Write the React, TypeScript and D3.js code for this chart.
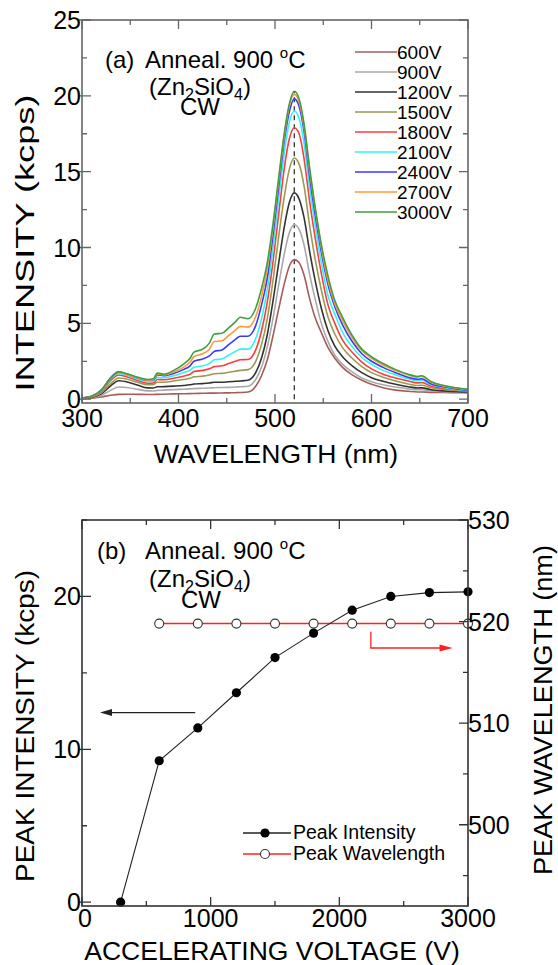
import React from 'react';
import * as d3 from 'd3';

// ---- (a) spectra ----
const wavelengths = [300, 310, 320, 330, 338, 348, 358, 368, 374, 378, 385, 395, 405, 412, 416, 425, 432, 437, 445, 452, 459, 464, 472, 480, 486, 492, 498, 504, 510, 515, 520, 525, 530, 536, 542, 548, 555, 562, 570, 580, 590, 600, 612, 625, 638, 648, 652, 662, 675, 688, 700];

const v600 = [0.04, 0.07, 0.15, 0.26, 0.32, 0.33, 0.32, 0.31, 0.31, 0.32, 0.33, 0.35, 0.36, 0.37, 0.38, 0.39, 0.4, 0.4, 0.41, 0.42, 0.43, 0.44, 0.47, 0.85, 1.55, 2.6, 4.2, 6.0, 7.7, 8.8, 9.2, 9.0, 8.2, 6.6, 5.3, 4.4, 3.4, 2.7, 2.1, 1.6, 1.25, 0.98, 0.75, 0.6, 0.52, 0.48, 0.48, 0.45, 0.44, 0.43, 0.42];
const v900 = [0.05, 0.1, 0.25, 0.6, 0.8, 0.76, 0.65, 0.55, 0.54, 0.58, 0.6, 0.63, 0.66, 0.68, 0.7, 0.72, 0.74, 0.76, 0.77, 0.78, 0.8, 0.82, 0.85, 1.3, 2.1, 3.45, 5.35, 7.6, 9.7, 11.0, 11.5, 11.2, 10.2, 8.2, 6.5, 5.0, 3.8, 2.9, 2.3, 1.8, 1.4, 1.15, 0.95, 0.8, 0.68, 0.62, 0.62, 0.55, 0.5, 0.46, 0.45];
const v1200 = [0.05, 0.12, 0.35, 0.9, 1.22, 1.12, 0.92, 0.75, 0.74, 0.82, 0.83, 0.86, 0.9, 0.95, 1.0, 1.03, 1.07, 1.12, 1.12, 1.15, 1.18, 1.2, 1.25, 1.75, 2.7, 4.25, 6.5, 9.05, 11.5, 13.0, 13.6, 13.2, 12.0, 9.7, 7.7, 6.0, 4.5, 3.5, 2.8, 2.2, 1.75, 1.42, 1.18, 0.98, 0.82, 0.74, 0.75, 0.62, 0.55, 0.5, 0.48];
const v1500 = [0.06, 0.15, 0.42, 1.05, 1.4, 1.3, 1.1, 0.95, 0.96, 1.12, 1.12, 1.2, 1.3, 1.38, 1.48, 1.52, 1.6, 1.68, 1.7, 1.78, 1.85, 1.9, 1.95, 2.5, 3.6, 5.3, 7.85, 10.8, 13.5, 15.2, 15.9, 15.5, 14.1, 11.4, 9.1, 7.2, 5.4, 4.3, 3.4, 2.7, 2.15, 1.75, 1.45, 1.2, 1.0, 0.9, 0.92, 0.75, 0.65, 0.57, 0.52];
const v1800 = [0.07, 0.17, 0.5, 1.25, 1.6, 1.45, 1.22, 1.05, 1.07, 1.3, 1.28, 1.38, 1.52, 1.65, 1.82, 1.9, 2.0, 2.15, 2.2, 2.35, 2.5, 2.6, 2.62, 3.25, 4.5, 6.4, 9.1, 12.3, 15.4, 17.2, 17.9, 17.5, 15.9, 13.0, 10.5, 8.3, 6.2, 5.0, 3.9, 3.1, 2.45, 2.0, 1.65, 1.4, 1.2, 1.08, 1.1, 0.85, 0.72, 0.62, 0.55];
const v2100 = [0.07, 0.18, 0.55, 1.35, 1.7, 1.55, 1.32, 1.15, 1.18, 1.45, 1.42, 1.55, 1.75, 1.9, 2.1, 2.2, 2.35, 2.6, 2.65, 2.9, 3.15, 3.3, 3.3, 4.0, 5.3, 7.2, 10.0, 13.3, 16.4, 18.3, 19.0, 18.5, 16.9, 13.9, 11.3, 9.0, 6.8, 5.6, 4.4, 3.45, 2.75, 2.3, 1.9, 1.6, 1.35, 1.22, 1.25, 0.95, 0.78, 0.65, 0.58];
const v2400 = [0.08, 0.2, 0.6, 1.45, 1.8, 1.62, 1.4, 1.25, 1.28, 1.6, 1.55, 1.7, 1.95, 2.2, 2.5, 2.65, 2.85, 3.15, 3.25, 3.6, 3.95, 4.15, 4.15, 4.85, 6.2, 8.0, 10.85, 14.1, 17.2, 19.0, 19.8, 19.3, 17.7, 14.6, 12.0, 9.7, 7.55, 6.1, 4.9, 3.8, 3.0, 2.5, 2.1, 1.75, 1.45, 1.32, 1.35, 1.0, 0.82, 0.68, 0.6];
const v2700 = [0.08, 0.2, 0.6, 1.4, 1.75, 1.6, 1.42, 1.25, 1.3, 1.65, 1.6, 1.8, 2.1, 2.45, 2.8, 3.0, 3.3, 3.8, 3.85, 4.2, 4.55, 4.8, 4.75, 5.45, 6.75, 8.6, 11.35, 14.5, 17.5, 19.4, 20.1, 19.6, 18.0, 15.0, 12.4, 10.0, 7.8, 6.3, 5.2, 4.05, 3.2, 2.7, 2.25, 1.9, 1.6, 1.45, 1.5, 1.1, 0.88, 0.72, 0.63];
const v3000 = [0.08, 0.2, 0.6, 1.4, 1.8, 1.65, 1.45, 1.3, 1.35, 1.72, 1.65, 1.9, 2.3, 2.7, 3.1, 3.3, 3.7, 4.3, 4.35, 4.7, 5.1, 5.4, 5.3, 6.0, 7.3, 9.0, 11.6, 14.7, 17.7, 19.5, 20.3, 19.8, 18.2, 15.2, 12.5, 10.2, 8.1, 6.5, 5.4, 4.2, 3.3, 2.8, 2.35, 1.95, 1.65, 1.5, 1.55, 1.15, 0.9, 0.75, 0.65];

const spectra = [v600, v900, v1200, v1500, v1800, v2100, v2400, v2700, v3000];
const spectraNames = ['600V', '900V', '1200V', '1500V', '1800V', '2100V', '2400V', '2700V', '3000V'];
const spectraColors = ['#a45c5c', '#a9a9a9', '#333333', '#9c9a52', '#ff3b3b', '#2ef5f5', '#3a3aff', '#ff9a3c', '#3f9f3f'];
const peakLine = 520;
const peakTop = 20.3;

// ---- (b) peak values vs. voltage ----
const intVoltages = [300, 600, 900, 1200, 1500, 1800, 2100, 2400, 2700, 3000];
const peakIntensity = [0, 9.25, 11.4, 13.7, 16.0, 17.6, 19.1, 20.0, 20.25, 20.3];
const wlVoltages = [600, 900, 1200, 1500, 1800, 2100, 2400, 2700, 3000];
const peakWavelength = [519.8, 519.8, 519.8, 519.8, 519.8, 519.8, 519.8, 519.8, 519.8];

const xTicksA = [300, 400, 500, 600, 700];
const yTicksA = [0, 5, 10, 15, 20, 25];
const xTicksB = [0, 1000, 2000, 3000];
const yTicksB = [0, 10, 20];
const yTicksBR = [500, 510, 520, 530];

const FONT = 'Liberation Sans, Arial, sans-serif';

type Lin = d3.ScaleLinear<number, number>;

// frame with inward ticks on all four sides
const Frame = ({ x, y, xMajor, xMinor, yMajor, yMinor, yr, yrMajor, yrMinor, color }: {
  x: Lin; y: Lin; xMajor: number[]; xMinor: number[]; yMajor: number[]; yMinor: number[];
  yr?: Lin; yrMajor?: number[]; yrMinor?: number[]; color: string;
}) => {
  const [x0, x1] = x.range();
  const [yb, yt] = y.range();
  const ry = yr || y;
  const rMaj = yrMajor || yMajor;
  const rMin = yrMinor || yMinor;
  const segs: string[] = [];
  xMajor.forEach(v => { const p = x(v); segs.push(`M${p},${yb}V${yb - 9}M${p},${yt}V${yt + 9}`); });
  xMinor.forEach(v => { const p = x(v); segs.push(`M${p},${yb}V${yb - 5}M${p},${yt}V${yt + 5}`); });
  yMajor.forEach(v => { const p = y(v); segs.push(`M${x0 - 3},${p}H${x0 + 9}`); });
  yMinor.forEach(v => { const p = y(v); segs.push(`M${x0},${p}H${x0 + 5}`); });
  rMaj.forEach(v => { const p = ry(v); segs.push(`M${x1},${p}H${x1 - 9}`); });
  rMin.forEach(v => { const p = ry(v); segs.push(`M${x1},${p}H${x1 - 5}`); });
  return (
    <g stroke={color} fill="none">
      <rect x={x0} y={yt} width={x1 - x0} height={yb - yt} strokeWidth={1.6} />
      <path d={segs.join('')} strokeWidth={1.3} />
    </g>
  );
};

const Compound = ({ x, y }: { x: number; y: number }) => (
  <text x={x} y={y} textAnchor="middle" fontSize={24}>
    (Zn<tspan fontSize={16} dy={5}>2</tspan><tspan dy={-5}>SiO</tspan><tspan fontSize={16} dy={5}>4</tspan><tspan dy={-5}>)</tspan>
  </text>
);

const Anneal = ({ x, y }: { x: number; y: number }) => (
  <text x={x} y={y} fontSize={24}>
    Anneal. 900 <tspan fontSize={15} dy={-10}>o</tspan><tspan dy={10}>C</tspan>
  </text>
);

export default function App() {
  // panel (a)
  const xa = d3.scaleLinear().domain([300, 700]).range([82, 468]);
  const ya = d3.scaleLinear().domain([-0.25, 25]).range([403, 20]);
  const lineA = d3.line<number>()
    .x((_, i) => xa(wavelengths[i]))
    .y(d => ya(d))
    .curve(d3.curveMonotoneX);

  // panel (b)
  const xb = d3.scaleLinear().domain([0, 3000]).range([82, 468]);
  const yb = d3.scaleLinear().domain([-0.25, 25]).range([906, 520]);
  const ybr = d3.scaleLinear().domain([492, 530]).range([906, 520]);
  const lineInt = d3.line<number>().x((_, i) => xb(intVoltages[i])).y(d => yb(d));
  const lineWl = d3.line<number>().x((_, i) => xb(wlVoltages[i])).y(d => ybr(d));

  const minorA = d3.range(350, 700, 100);
  const minorAy = d3.range(2.5, 25, 5);

  return (
    <svg width={558} height={965} style={{ position: 'absolute', left: 0, top: 0 }} fontFamily={FONT}>
      <rect width={558} height={965} fill="#fff" />

      {/* ===== (a) ===== */}
      <line x1={xa(peakLine)} x2={xa(peakLine)} y1={ya(0)} y2={ya(peakTop)}
        stroke="#333" strokeWidth={1.3} strokeDasharray="5,4" />
      {spectra.map((s, i) => (
        <path key={spectraNames[i]} d={lineA(s) || ''} fill="none"
          stroke={spectraColors[i]} strokeWidth={1.6} />
      ))}
      <Frame x={xa} y={ya} xMajor={xTicksA} xMinor={minorA} yMajor={yTicksA} yMinor={minorAy} color="#666" />

      {xTicksA.map(v => (
        <text key={v} x={xa(v)} y={427} textAnchor="middle" fontSize={25}>{v}</text>
      ))}
      {yTicksA.map(v => (
        <text key={v} x={81} y={ya(v) + 9} textAnchor="end" fontSize={25}>{v}</text>
      ))}
      <text x={276} y={463} textAnchor="middle" fontSize={26.5}>WAVELENGTH (nm)</text>
      <text transform="translate(34,243) rotate(-90)" textAnchor="middle" fontSize={26.5}
        textLength={297} lengthAdjust="spacingAndGlyphs">INTENSITY (kcps)</text>

      <text x={105} y={68} fontSize={24}>(a)</text>
      <Anneal x={145} y={68} />
      <Compound x={200} y={95} />
      <text x={200} y={115} textAnchor="middle" fontSize={24}>CW</text>

      {spectraNames.map((n, i) => (
        <g key={n}>
          <line x1={355} x2={397} y1={52 + i * 20} y2={52 + i * 20} stroke={spectraColors[i]} strokeWidth={1.6} />
          <text x={397} y={59 + i * 20} fontSize={19}>{n}</text>
        </g>
      ))}

      {/* ===== (b) ===== */}
      <path d={lineWl(peakWavelength) || ''} fill="none" stroke="#ff2020" strokeWidth={1.5} />
      <path d={lineInt(peakIntensity) || ''} fill="none" stroke="#222" strokeWidth={1.1} />
      {peakWavelength.map((d, i) => (
        <circle key={'w' + i} cx={xb(wlVoltages[i])} cy={ybr(d)} r={4.5} fill="#fff" stroke="#333" strokeWidth={1.1} />
      ))}
      {peakIntensity.map((d, i) => (
        <circle key={'p' + i} cx={xb(intVoltages[i])} cy={yb(d)} r={4.6} fill="#000" />
      ))}

      {/* arrows */}
      <line x1={xb(880)} x2={xb(200)} y1={yb(12.4)} y2={yb(12.4)} stroke="#222" strokeWidth={1.2} />
      <path d={`M${xb(140)},${yb(12.4)}L${xb(140) + 12},${yb(12.4) - 3.5}L${xb(140) + 12},${yb(12.4) + 3.5}Z`} fill="#222" />
      <path d={`M${xb(2245)},${ybr(519.0)}V${ybr(517.4)}H${xb(2800)}`} fill="none" stroke="#ff2020" strokeWidth={1.3} />
      <path d={`M${xb(2880)},${ybr(517.4)}L${xb(2880) - 13},${ybr(517.4) - 3.5}L${xb(2880) - 13},${ybr(517.4) + 3.5}Z`} fill="#ff2020" />

      <Frame x={xb} y={yb} xMajor={xTicksB} xMinor={[500, 1500, 2500]} yMajor={yTicksB} yMinor={[5, 15, 25]}
        yr={ybr} yrMajor={yTicksBR} yrMinor={[495, 505, 515, 525]} color="#333" />

      {xTicksB.map(v => (
        <text key={v} x={xb(v) + (v === 0 ? 3 : 0)} y={927} textAnchor="middle" fontSize={25}>{v}</text>
      ))}
      {yTicksB.map(v => (
        <text key={v} x={81} y={yb(v) + 9} textAnchor="end" fontSize={25}>{v}</text>
      ))}
      {yTicksBR.map(v => (
        <text key={v} x={468} y={ybr(v) + 9} fontSize={25}>{v}</text>
      ))}
      <text x={272} y={960} textAnchor="middle" fontSize={26.5}>ACCELERATING VOLTAGE (V)</text>
      <text transform="translate(34,726) rotate(-90)" textAnchor="middle" fontSize={26.5}
        textLength={312} lengthAdjust="spacingAndGlyphs">PEAK INTENSITY (kcps)</text>
      <text transform="translate(552,710) rotate(-90)" textAnchor="middle" fontSize={26.5}
        textLength={330} lengthAdjust="spacingAndGlyphs">PEAK WAVELENGTH (nm)</text>

      <text x={97} y={559} fontSize={24}>(b)</text>
      <Anneal x={145} y={559} />
      <Compound x={200} y={587} />
      <text x={201} y={608} textAnchor="middle" fontSize={24}>CW</text>

      {/* legend (b) */}
      <line x1={243} x2={291} y1={833} y2={833} stroke="#222" strokeWidth={1.3} />
      <circle cx={265} cy={833} r={4.6} fill="#000" />
      <text x={293} y={839} fontSize={19.5}>Peak Intensity</text>
      <line x1={243} x2={291} y1={854} y2={854} stroke="#ff2020" strokeWidth={1.3} />
      <circle cx={265} cy={854} r={4.5} fill="#fff" stroke="#333" strokeWidth={1.1} />
      <text x={293} y={860} fontSize={19.5}>Peak Wavelength</text>
    </svg>
  );
}
